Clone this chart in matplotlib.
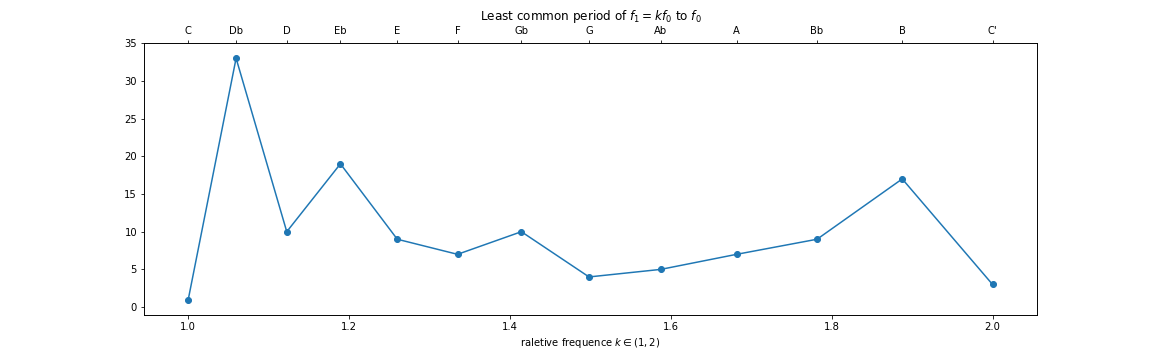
import numpy as np
import matplotlib
matplotlib.use('Agg')
import matplotlib.pyplot as plt

# equal-tempered frequency ratios and the least common period for each
ratios = [1.0, 1.0595, 1.1225, 1.1892, 1.2599, 1.3348, 1.4142,
          1.4983, 1.5874, 1.6818, 1.7818, 1.8877, 2.0]
periods = [1, 33, 10, 19, 9, 7, 10, 4, 5, 7, 9, 17, 3]
notes = ['C', 'Db', 'D', 'Eb', 'E', 'F', 'Gb', 'G', 'Ab', 'A', 'Bb', 'B', "C'"]

fig, ax = plt.subplots(figsize=(16, 5), dpi=72)
fig.subplots_adjust(left=0.125, right=0.9, top=0.88, bottom=0.126)
ax.plot(ratios, periods, marker='o')
ax.set_xlim(0.945, 2.055)
ax.set_ylim(-1, 35)
ax.set_xlabel(r'raletive frequence $k\in(1,2)$')

top = ax.twiny()
top.set_xlim(ax.get_xlim())
top.set_xticks(ratios)
top.set_xticklabels(notes)
top.set_title(r'Least common period of $f_1=kf_0$ to $f_0$')

fig.savefig('out.png', dpi=72)
